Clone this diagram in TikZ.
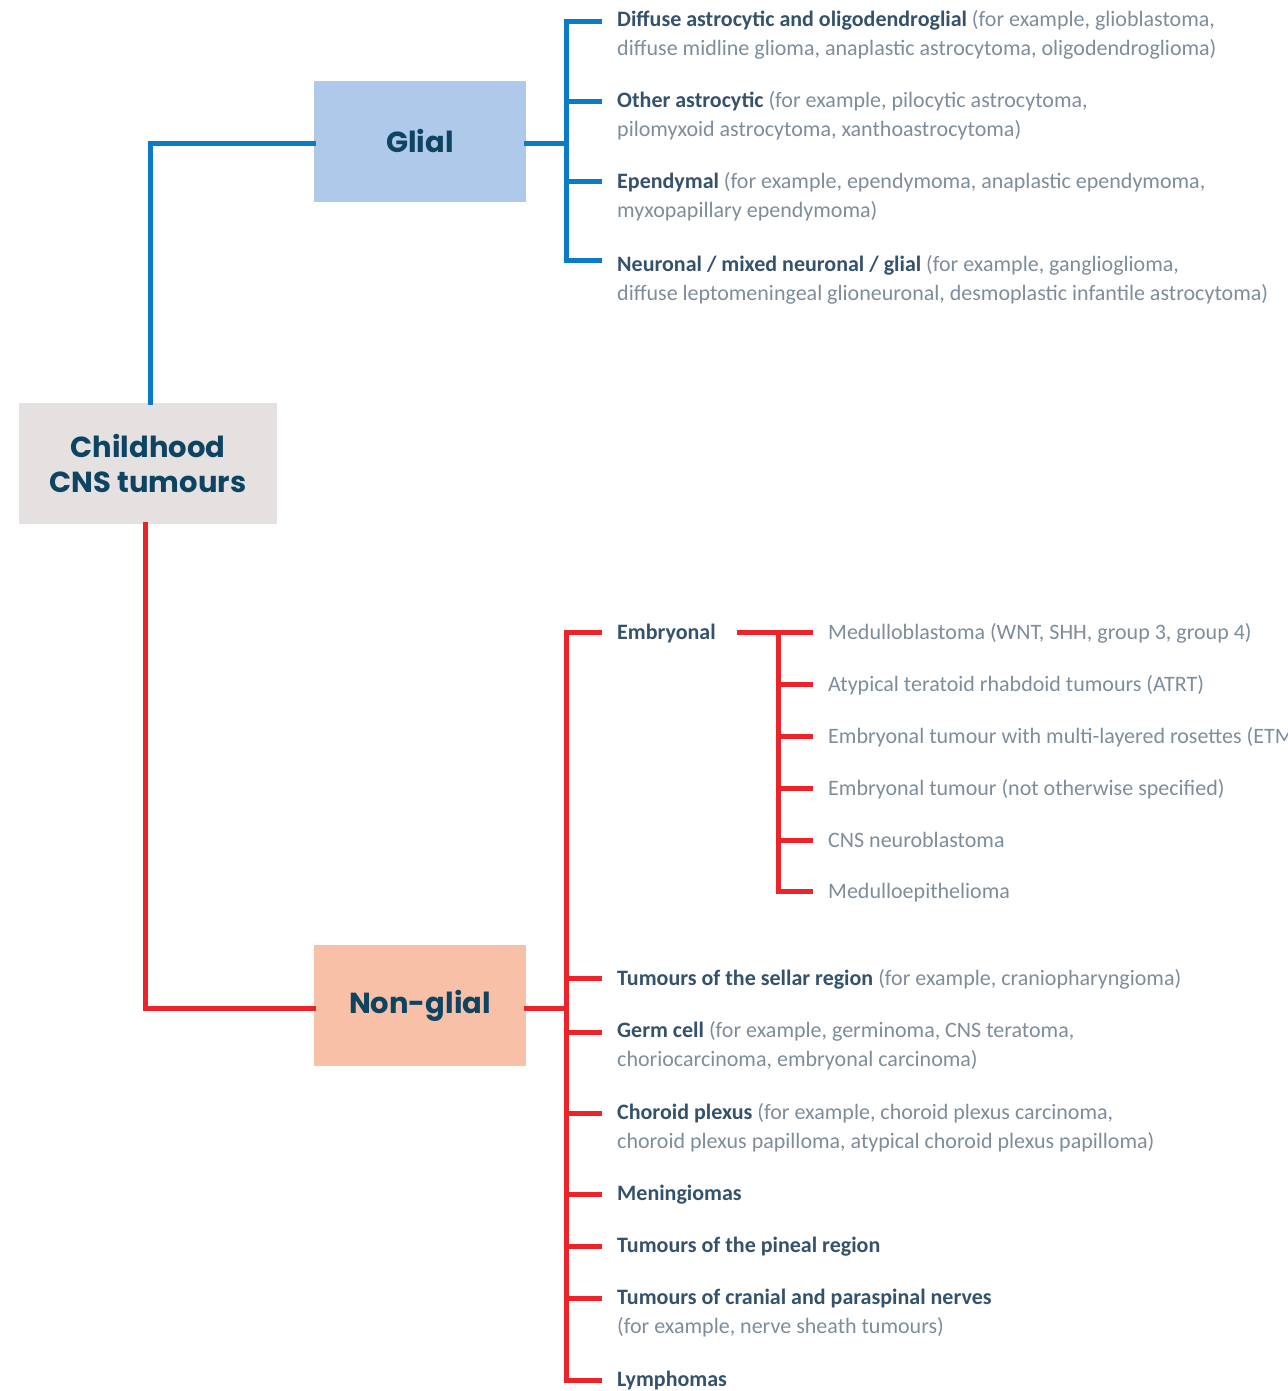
\documentclass[tikz,border=0pt]{standalone}
\usepackage{fontspec}
\setmainfont{Carlito}
\newfontfamily\titlefont{Poppins}
\definecolor{blueln}{HTML}{0A7CC6}
\definecolor{redln}{HTML}{EE2229}
\definecolor{glialfill}{HTML}{AEC9E9}
\definecolor{childfill}{HTML}{E5E1E0}
\definecolor{nonfill}{HTML}{F9C0A8}
\definecolor{titlecol}{HTML}{0D4461}
\definecolor{headcol}{HTML}{34526C}
\definecolor{greycol}{HTML}{7D8D9B}
\newcommand{\hd}[1]{{\bfseries\color{headcol}#1}}
\newcommand{\tx}[1]{{\color{greycol}#1}}
\newcommand{\twol}[2]{\vtop{\baselineskip=29pt\hbox{#1}\hbox{#2}}}
\begin{document}
\begin{tikzpicture}[x=1pt,y=-1pt,
  box/.style={inner sep=0pt, minimum width=212pt, minimum height=121pt, align=center,
    font=\titlefont\bfseries\fontsize{29}{35}\selectfont, text=titlecol},
  item/.style={anchor=base west, inner sep=0pt, font=\fontsize{22}{29}\selectfont, text=greycol},
  bl/.style={draw=blueln, line width=5pt, line join=miter, line cap=rect},
  rl/.style={draw=redln, line width=5pt, line join=miter, line cap=rect}]
\useasboundingbox (0,0) rectangle (1287,1391);
\clip (0,0) rectangle (1287,1391);

% boxes
\node[box, fill=glialfill] (glial) at (420,141.5) {Glial};
\node[box, fill=childfill, minimum width=258pt] (child) at (148,463.5) {Childhood\\CNS tumours};
\node[box, fill=nonfill] (nonglial) at (420,1005.5) {Non-glial};

% glial items
\node[item] (g1) at (617,27) {\twol{\hd{Diffuse astrocytic and oligodendroglial} \tx{(for example, glioblastoma,}}{diffuse midline glioma, anaplastic astrocytoma, oligodendroglioma)}};
\node[item] (g2) at (617,108) {\twol{\hd{Other astrocytic} \tx{(for example, pilocytic astrocytoma,}}{pilomyxoid astrocytoma, xanthoastrocytoma)}};
\node[item] (g3) at (617,189) {\twol{\hd{Ependymal} \tx{(for example, ependymoma, anaplastic ependymoma,}}{myxopapillary ependymoma)}};
\node[item] (g4) at (617,271) {\twol{\hd{Neuronal / mixed neuronal / glial} \tx{(for example, ganglioglioma,}}{diffuse leptomeningeal glioneuronal, desmoplastic infantile astrocytoma)}};

% non-glial items
\node[item] (n1) at (617,639) {\hd{Embryonal}};
\node[item] (n2) at (617,985) {\hd{Tumours of the sellar region} \tx{(for example, craniopharyngioma)}};
\node[item] (n3) at (617,1037) {\twol{\hd{Germ cell} \tx{(for example, germinoma, CNS teratoma,}}{choriocarcinoma, embryonal carcinoma)}};
\node[item] (n4) at (617,1119) {\twol{\hd{Choroid plexus} \tx{(for example, choroid plexus carcinoma,}}{choroid plexus papilloma, atypical choroid plexus papilloma)}};
\node[item] (n5) at (617,1200) {\hd{Meningiomas}};
\node[item] (n6) at (617,1252) {\hd{Tumours of the pineal region}};
\node[item] (n7) at (617,1304) {\twol{\hd{Tumours of cranial and paraspinal nerves}}{(for example, nerve sheath tumours)}};
\node[item] (n8) at (617,1386) {\hd{Lymphomas}};

% embryonal sub-items
\node[item] (e1) at (828,639) {Medulloblastoma (WNT, SHH, group 3, group 4)};
\node[item] (e2) at (828,691) {Atypical teratoid rhabdoid tumours (ATRT)};
\node[item] (e3) at (828,743) {Embryonal tumour with multi-layered rosettes (ETMR)};
\node[item] (e4) at (828,795) {Embryonal tumour (not otherwise specified)};
\node[item] (e5) at (828,847) {CNS neuroblastoma};
\node[item] (e6) at (828,898) {Medulloepithelioma};

% trunk coordinates
\coordinate (gj) at (566,144);
\coordinate (nj) at (566,1008);
\coordinate (ej) at (778,632);

% main connectors
\draw[bl] ([xshift=2pt]child.north) |- ([yshift=-2.5pt]glial.west);
\draw[rl] ([xshift=-3pt]child.south) |- ([yshift=-2.5pt]nonglial.west);

% glial bracket
\draw[bl] ([yshift=-2.5pt]glial.east) -- (gj);
\draw[bl] (599,22) -- (566,22) -- (566,260) -- (599,260);
\foreach \yy in {102,182} \draw[bl] (566,\yy) -- (599,\yy);

% non-glial bracket
\draw[rl] ([yshift=-2.5pt]nonglial.east) -- (nj);
\draw[rl] (599,632) -- (566,632) -- (566,1380) -- (599,1380);
\foreach \yy in {978,1032,1113,1194,1246,1298} \draw[rl] (566,\yy) -- (599,\yy);

% embryonal sub-bracket
\draw[rl] (739,632) -- (810,632);
\draw[rl] (ej) -- (778,891) -- (810,891);
\foreach \yy in {684,736,788,840} \draw[rl] (778,\yy) -- (810,\yy);
\end{tikzpicture}
\end{document}
